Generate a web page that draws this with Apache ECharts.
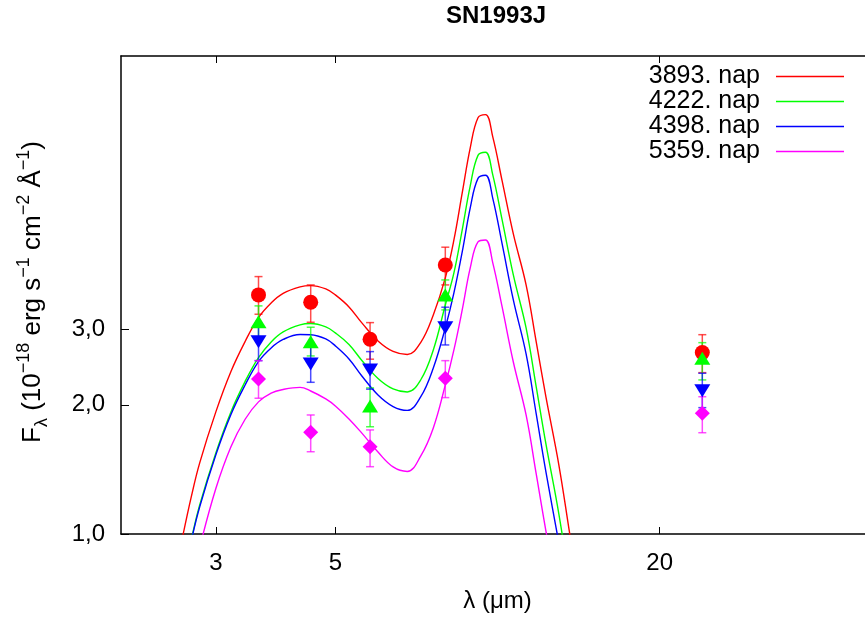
<!DOCTYPE html>
<html><head><meta charset="utf-8">
<script src="https://cdn.jsdelivr.net/npm/echarts@6/dist/echarts.min.js"></script>
<style>html,body{margin:0;padding:0;background:#fff}#c{width:865px;height:617px}</style>
</head><body><div id="c"></div>
<script>
const chartTitle = 'SN1993J';
const xAxisTitle = 'λ (μm)';
const modelNames = ['3893. nap', '4222. nap', '4398. nap', '5359. nap'];
const seriesColors = ['#ff0000', '#00ff00', '#0000ff', '#ff00ff'];

// model curves (wavelength in micron, flux)
const modelLambda = [2.5, 2.6, 2.7, 2.8, 3.0, 3.2, 3.4, 3.6, 3.8, 4.0, 4.3, 4.5, 4.8, 5.0, 5.3, 5.6, 6.0, 6.4, 6.8, 7.2, 7.6, 8.0, 8.3, 8.6, 8.9, 9.2, 9.5, 9.8, 10.2, 10.7, 11.3, 11.8, 12.3, 13.0, 13.6, 14.0];
const model3893 = [0.765, 0.979, 1.219, 1.465, 1.926, 2.392, 2.810, 3.195, 3.455, 3.636, 3.765, 3.792, 3.725, 3.607, 3.382, 3.104, 2.818, 2.664, 2.621, 2.794, 3.240, 3.952, 4.845, 6.236, 7.94, 9.33, 9.49, 8.42, 6.65, 5.003, 3.806, 2.803, 2.086, 1.448, 1.011, 0.803];
const model4222 = [0.597, 0.777, 0.968, 1.169, 1.545, 1.925, 2.268, 2.577, 2.803, 2.957, 3.071, 3.093, 3.038, 2.942, 2.765, 2.538, 2.304, 2.178, 2.143, 2.285, 2.685, 3.418, 4.059, 5.113, 6.475, 7.626, 7.757, 6.868, 5.394, 4.015, 3.021, 2.202, 1.621, 1.113, 0.773, 0.607];
const model4398 = [0.590, 0.773, 0.963, 1.157, 1.529, 1.899, 2.225, 2.523, 2.714, 2.840, 2.917, 2.914, 2.848, 2.744, 2.558, 2.335, 2.109, 1.982, 1.941, 2.086, 2.437, 3.021, 3.646, 4.544, 5.754, 6.741, 6.858, 6.054, 4.742, 3.512, 2.628, 1.905, 1.395, 0.953, 0.700, 0.537];
const model5359 = [0.480, 0.604, 0.749, 0.930, 1.276, 1.597, 1.851, 2.032, 2.131, 2.172, 2.196, 2.154, 2.064, 1.988, 1.854, 1.718, 1.552, 1.433, 1.399, 1.519, 1.767, 2.225, 2.685, 3.328, 4.169, 4.794, 4.845, 4.283, 3.382, 2.517, 1.894, 1.380, 1.016, 0.698, 0.508, 0.420];

// observed photometry with error bars
const obsLambda = [3.6, 4.5, 5.8, 8.0, 24];
const obs3893 = [3.607, 3.467, 2.843, 4.236, 2.647];
const obs3893Lo = [3.252, 3.115, 2.555, 3.806, 2.377];
const obs3893Hi = [3.980, 3.806, 3.109, 4.660, 2.914];
const obs4222 = [3.125, 2.807, 1.988, 3.607, 2.569];
const obs4222Lo = [2.878, 2.600, 1.778, 3.328, 2.286];
const obs4222Hi = [3.401, 3.033, 2.190, 3.909, 2.792];
const obs4398 = [2.807, 2.490, 2.412, 3.025, 2.158];
const obs4398Lo = [2.535, 2.257, 2.175, 2.758, 1.970];
const obs4398Hi = [3.098, 2.744, 2.661, 3.377, 2.369];
const obs5359 = [2.298, 1.726, 1.598, 2.307, 1.912];
const obs5359Lo = [2.072, 1.555, 1.435, 2.079, 1.722];
const obs5359Hi = [2.535, 1.894, 1.748, 2.535, 2.089];

const xTickValues = [3, 5, 20];
const xTickLabels = ['3', '5', '20'];
const yTickValues = [1, 2, 3];
const yTickLabels = ['1,0', '2,0', '3,0'];
const xRange = [2, 50];
const yRange = [1, 13];

const FONT = '"Liberation Sans", Arial, Helvetica, sans-serif';
const models = [model3893, model4222, model4398, model5359];
const obs = [obs3893, obs4222, obs4398, obs5359];
const obsLo = [obs3893Lo, obs4222Lo, obs4398Lo, obs5359Lo];
const obsHi = [obs3893Hi, obs4222Hi, obs4398Hi, obs5359Hi];
const symbols = [
  {symbol: 'circle', size: 15, rotate: 0},
  {symbol: 'triangle', size: [16, 13], rotate: 0},
  {symbol: 'triangle', size: [16, 13], rotate: 180},
  {symbol: 'diamond', size: [15, 15], rotate: 0}
];

const series = [];
models.forEach((m, i) => {
  series.push({
    name: modelNames[i], type: 'line', xAxisIndex: 0, yAxisIndex: 0,
    data: modelLambda.map((l, j) => [l, m[j]]),
    showSymbol: false, smooth: 0.4, clip: true, z: 2,
    lineStyle: {color: seriesColors[i], width: 1.4},
    itemStyle: {color: seriesColors[i]}
  });
});
obs.forEach((o, i) => {
  const col = seriesColors[i];
  series.push({
    name: 'err ' + modelNames[i], type: 'custom', xAxisIndex: 0, yAxisIndex: 0, z: 3,
    data: obsLambda.map((l, j) => [l, obsLo[i][j], obsHi[i][j]]),
    encode: {x: 0, y: [1, 2]},
    renderItem: function (params, api) {
      const x = api.value(0);
      const pLo = api.coord([x, api.value(1)]);
      const pHi = api.coord([x, api.value(2)]);
      const w = 4;
      const st = {stroke: col, lineWidth: 1.5, opacity: 0.7};
      return {type: 'group', children: [
        {type: 'line', shape: {x1: pLo[0], y1: pLo[1], x2: pHi[0], y2: pHi[1]}, style: st},
        {type: 'line', shape: {x1: pLo[0] - w, y1: pLo[1], x2: pLo[0] + w, y2: pLo[1]}, style: st},
        {type: 'line', shape: {x1: pHi[0] - w, y1: pHi[1], x2: pHi[0] + w, y2: pHi[1]}, style: st}
      ]};
    }
  });
  series.push({
    name: 'obs ' + modelNames[i], type: 'scatter', xAxisIndex: 0, yAxisIndex: 0, z: 3,
    data: obsLambda.map((l, j) => [l, o[j]]),
    symbol: symbols[i].symbol, symbolSize: symbols[i].size, symbolRotate: symbols[i].rotate,
    itemStyle: {color: col, opacity: 1}
  });
});

const chart = echarts.init(document.getElementById('c'), null, {renderer: 'canvas'});
const option = {
  animation: false,
  backgroundColor: '#ffffff',
  textStyle: {fontFamily: FONT},
  title: {
    text: chartTitle, left: 446, top: 4, padding: 0,
    textStyle: {fontSize: 24, fontWeight: 'bold', color: '#000', fontFamily: FONT}
  },
  legend: {
    data: modelNames, orient: 'vertical', right: 21, top: 64, padding: 0,
    align: 'right', icon: 'rect', itemWidth: 68, itemHeight: 1.5, itemGap: 0,
    textStyle: {fontSize: 25, lineHeight: 25, color: '#000', fontFamily: FONT, padding: [0, 11, 0, 0]},
    selectedMode: false
  },
  grid: {left: 121, top: 56, width: 753, height: 478, containLabel: false, outerBoundsMode: 'none'},
  xAxis: [
    {
      type: 'log', logBase: 10, min: xRange[0], max: xRange[1], position: 'bottom',
      axisLine: {show: true, onZero: false, lineStyle: {color: '#000', width: 1.5}},
      axisTick: {show: false}, axisLabel: {show: false}, splitLine: {show: false}, minorTick: {show: false}
    },
    {
      type: 'value', min: Math.log10(xRange[0]), max: Math.log10(xRange[1]), position: 'bottom',
      axisLine: {show: false, onZero: false},
      axisTick: {show: true, inside: true, length: 7, customValues: xTickValues.map(Math.log10), lineStyle: {color: '#000', width: 1}},
      axisLabel: {
        show: true, margin: 17, fontSize: 24, color: '#000', fontFamily: FONT,
        customValues: xTickValues.map(Math.log10),
        formatter: function (v) {
          const k = xTickValues.findIndex(t => Math.abs(Math.log10(t) - v) < 1e-6);
          return k >= 0 ? xTickLabels[k] : '';
        }
      },
      splitLine: {show: false},
      name: xAxisTitle, nameLocation: 'middle', nameGap: 55,
      nameTextStyle: {fontSize: 24, color: '#000', fontFamily: FONT}
    },
    {
      type: 'value', min: Math.log10(xRange[0]), max: Math.log10(xRange[1]), position: 'top',
      axisLine: {show: true, onZero: false, lineStyle: {color: '#000', width: 1.5}},
      axisTick: {show: true, inside: true, length: 7, customValues: xTickValues.map(Math.log10), lineStyle: {color: '#000', width: 1}},
      axisLabel: {show: false}, splitLine: {show: false}
    }
  ],
  yAxis: [
    {
      type: 'log', logBase: 10, min: yRange[0], max: yRange[1], position: 'left',
      axisLine: {show: true, onZero: false, lineStyle: {color: '#000', width: 1.5}},
      axisTick: {show: false}, axisLabel: {show: false}, splitLine: {show: false}, minorTick: {show: false}
    },
    {
      type: 'value', min: Math.log10(yRange[0]), max: Math.log10(yRange[1]), position: 'left',
      axisLine: {show: false, onZero: false},
      axisTick: {show: true, inside: true, length: 8, customValues: yTickValues.map(Math.log10), lineStyle: {color: '#000', width: 1}},
      axisLabel: {
        show: true, margin: 16, fontSize: 24, color: '#000', fontFamily: FONT,
        customValues: yTickValues.map(Math.log10),
        formatter: function (v) {
          const k = yTickValues.findIndex(t => Math.abs(Math.log10(t) - v) < 1e-6);
          return k >= 0 ? yTickLabels[k] : '';
        }
      },
      splitLine: {show: false}
    }
  ],
  graphic: [{
    type: 'text', x: 33, y: 292, rotation: Math.PI / 2,
    style: {
      text: '{a|F}{sub|λ}{a| (10}{sup|−18}{a| erg s}{sup|−1}{a| cm}{sup|−2}{a| Å}{sup|−1}{a|)}',
      align: 'center', verticalAlign: 'middle', fill: '#000',
      rich: {
        a: {fontSize: 26, lineHeight: 36, fontFamily: FONT, fill: '#000'},
        sup: {fontSize: 18, lineHeight: 18, verticalAlign: 'top', fontFamily: FONT, fill: '#000'},
        sub: {fontSize: 18, lineHeight: 18, verticalAlign: 'bottom', fontFamily: FONT, fill: '#000'}
      }
    }
  }],
  series: series
};
chart.setOption(option);
</script>
</body></html>
